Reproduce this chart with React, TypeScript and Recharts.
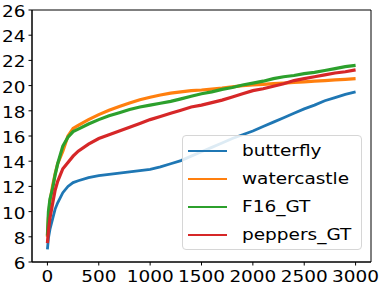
import React from 'react';
import { LineChart, Line, XAxis, YAxis, Legend, ReferenceArea } from 'recharts';

const iterations = [0, 10, 25, 50, 75, 100, 150, 200, 250, 300, 400, 500, 600, 700, 800, 900, 1000, 1100, 1200, 1300, 1400, 1500, 1600, 1700, 1800, 1900, 2000, 2100, 2200, 2300, 2400, 2500, 2600, 2700, 2800, 2900, 3000];

const butterfly = [7.0, 7.9, 8.6, 9.4, 10.2, 10.7, 11.5, 12.0, 12.3, 12.45, 12.7, 12.85, 12.95, 13.05, 13.15, 13.25, 13.35, 13.55, 13.8, 14.05, 14.4, 14.75, 15.1, 15.45, 15.8, 16.1, 16.4, 16.75, 17.1, 17.45, 17.8, 18.15, 18.45, 18.8, 19.05, 19.3, 19.5];
const watercastle = [8.0, 9.5, 10.8, 12.0, 13.0, 13.8, 14.8, 16.0, 16.6, 16.85, 17.3, 17.7, 18.05, 18.35, 18.62, 18.88, 19.08, 19.25, 19.4, 19.5, 19.6, 19.65, 19.72, 19.8, 19.9, 20.0, 20.05, 20.1, 20.15, 20.2, 20.25, 20.3, 20.35, 20.4, 20.45, 20.5, 20.55];
const f16 = [8.1, 10.0, 11.0, 11.8, 12.9, 13.8, 15.2, 15.9, 16.35, 16.55, 16.95, 17.3, 17.6, 17.85, 18.1, 18.3, 18.45, 18.6, 18.75, 18.95, 19.15, 19.35, 19.5, 19.7, 19.85, 20.05, 20.2, 20.35, 20.55, 20.7, 20.8, 20.95, 21.05, 21.2, 21.35, 21.5, 21.6];
const peppers = [7.5, 8.5, 9.5, 10.6, 11.7, 12.4, 13.4, 13.9, 14.4, 14.8, 15.35, 15.8, 16.1, 16.4, 16.7, 17.0, 17.3, 17.55, 17.8, 18.05, 18.3, 18.45, 18.65, 18.85, 19.1, 19.35, 19.6, 19.75, 19.95, 20.15, 20.4, 20.55, 20.7, 20.85, 21.0, 21.1, 21.25];

const xTicks = [0, 500, 1000, 1500, 2000, 2500, 3000];
const yTicks = [6, 8, 10, 12, 14, 16, 18, 20, 22, 24, 26];

const seriesNames = ['butterfly', 'watercastle', 'F16_GT', 'peppers_GT'];
const seriesColors = ['#1f77b4', '#ff7f0e', '#2ca02c', '#d62728'];
const seriesValues = [butterfly, watercastle, f16, peppers];

const data = iterations.map((it, i) => {
  const row: Record<string, number> = { it };
  seriesNames.forEach((n, k) => {
    row[n] = seriesValues[k][i];
  });
  return row;
});

const FONT = 'DejaVu Sans, sans-serif';
const FS = 16.5;
const SX = 1.12;

const XTick = (props: any) => {
  const { x, y, payload } = props;
  return (
    <g transform={`translate(${x},${y + 14.5}) scale(${SX},1)`}>
      <text x={0} y={0} textAnchor="middle" fill="#000" fontSize={FS} fontFamily={FONT}>
        {payload.value}
      </text>
    </g>
  );
};

const YTick = (props: any) => {
  const { x, y, payload } = props;
  return (
    <g transform={`translate(${x - 1},${y + 7}) scale(${SX},1)`}>
      <text x={0} y={0} textAnchor="end" fill="#000" fontSize={FS} fontFamily={FONT}>
        {payload.value}
      </text>
    </g>
  );
};

const renderLegend = () => (
  <div
    style={{
      width: 180,
      height: 115,
      boxSizing: 'border-box',
      border: '1px solid #d6d6d6',
      borderRadius: 4,
      background: 'rgba(255,255,255,0.85)',
      fontFamily: FONT,
      fontSize: FS,
      color: '#000',
      paddingTop: 1,
    }}
  >
    {seriesNames.map((n, k) => (
      <div key={n} style={{ display: 'flex', alignItems: 'center', height: 28 }}>
        <div style={{ marginLeft: 5, width: 39, height: 2, background: seriesColors[k] }} />
        <span
          style={{
            marginLeft: 15,
            lineHeight: '28px',
            display: 'inline-block',
            transform: `scaleX(${SX})`,
            transformOrigin: 'left center',
            whiteSpace: 'nowrap',
          }}
        >
          {n}
        </span>
      </div>
    ))}
  </div>
);

export default function App() {
  return (
    <div style={{ position: 'absolute', left: 0, top: 0, background: '#fff' }}>
      <LineChart width={383} height={287} data={data} margin={{ top: 10, right: 12, bottom: 0, left: 0 }}>
        <XAxis
          dataKey="it"
          type="number"
          domain={[-150, 3150]}
          ticks={xTicks}
          allowDataOverflow
          height={25}
          tickSize={3.5}
          stroke="#000"
          tickLine={{ stroke: '#000' }}
          axisLine={{ stroke: '#000' }}
          tick={<XTick />}
          interval={0}
        />
        <YAxis
          type="number"
          domain={[6, 26]}
          ticks={yTicks}
          allowDataOverflow
          width={32}
          tickSize={3.5}
          stroke="#000"
          tickLine={{ stroke: '#000' }}
          axisLine={{ stroke: '#000' }}
          tick={<YTick />}
          interval={0}
        />
        {seriesNames.map((n, k) => (
          <Line
            key={n}
            type="linear"
            dataKey={n}
            name={n}
            stroke={seriesColors[k]}
            strokeWidth={k === 0 ? 2.8 : 3.2}
            dot={false}
            isAnimationActive={false}
          />
        ))}
        <ReferenceArea x1={-150} x2={3150} y1={6} y2={26} fill="none" stroke="#000" strokeWidth={1} ifOverflow="visible" />
        <Legend
          layout="vertical"
          align="center"
          verticalAlign="middle"
          content={renderLegend}
          wrapperStyle={{ left: 182, top: 135, width: 180, height: 115 }}
        />
      </LineChart>
    </div>
  );
}
